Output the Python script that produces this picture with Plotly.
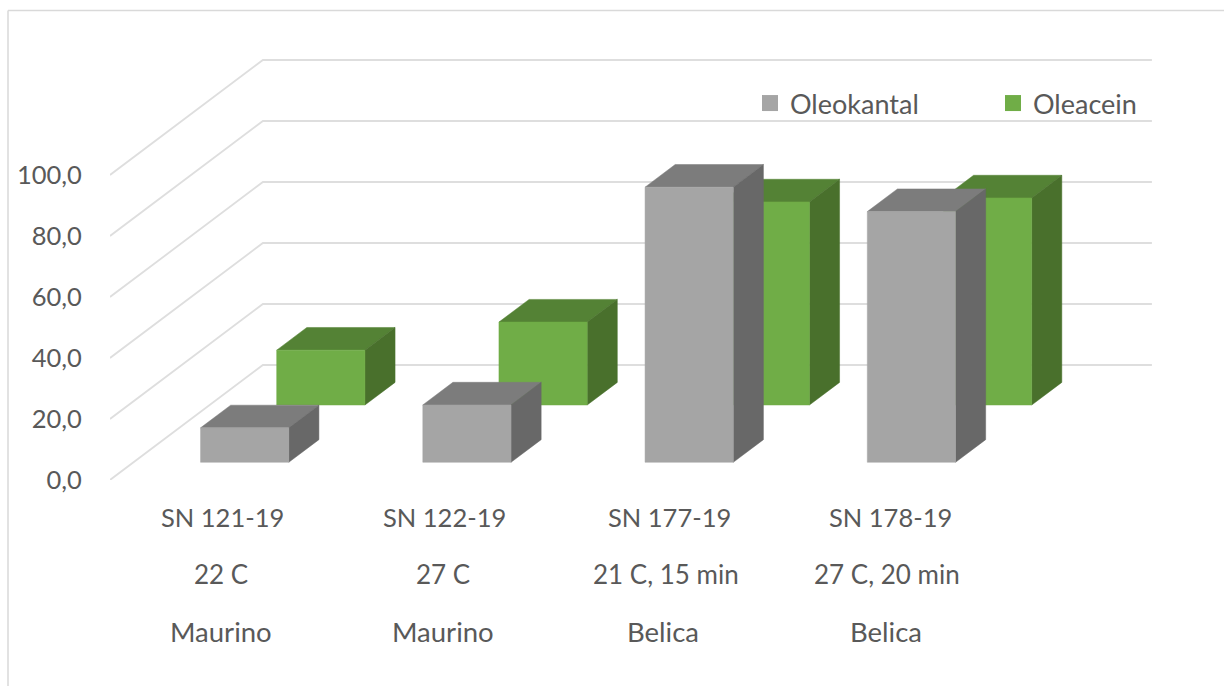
import plotly.graph_objects as go

# --- data ---
line1 = ["SN 121-19", "SN 122-19", "SN 177-19", "SN 178-19"]
line2 = ["22 C", "27 C", "21 C, 15 min", "27 C, 20 min"]
line3 = ["Maurino", "Maurino", "Belica", "Belica"]
oleokantal = [11.3, 18.8, 90.2, 82.2]
oleacein = [18.0, 27.2, 66.6, 67.9]
y_ticks = [0, 20, 40, 60, 80, 100]
y_tick_text = ["0,0", "20,0", "40,0", "60,0", "80,0", "100,0"]

# --- oblique projection of the 3-D box chart onto the 2-D axes ---
DX, DY = 0.688, 37.7      # axis shift of the full chart depth
BAR_W = 0.397             # bar width, in categories
BAR_D = 0.197             # bar depth, as share of chart depth


def proj(x, v, d):
    return x + d * DX, v + d * DY


def add_faces(fig, values, depth_front, colors):
    faces = {"front": ([], []), "top": ([], []), "side": ([], [])}
    for i, v in enumerate(values):
        x0, x1 = i + 0.5 - BAR_W / 2, i + 0.5 + BAR_W / 2
        d0, d1 = depth_front, depth_front + BAR_D
        polys = {
            "front": [(x0, 0, d0), (x1, 0, d0), (x1, v, d0), (x0, v, d0)],
            "top": [(x0, v, d0), (x1, v, d0), (x1, v, d1), (x0, v, d1)],
            "side": [(x1, 0, d0), (x1, 0, d1), (x1, v, d1), (x1, v, d0)],
        }
        for name, pts in polys.items():
            for p in pts + pts[:1]:
                px, py = proj(*p)
                faces[name][0].append(px)
                faces[name][1].append(py)
            faces[name][0].append(None)
            faces[name][1].append(None)
    for name in ("top", "side", "front"):
        fig.add_trace(go.Scatter(
            x=faces[name][0], y=faces[name][1], mode="lines", fill="toself",
            fillcolor=colors[name], line=dict(color=colors[name], width=0.5),
            showlegend=False, hoverinfo="skip"))


fig = go.Figure()

# gridlines: side wall and back wall
gx, gy = [], []
for v in y_ticks:
    a = proj(0, v, 0)
    b = proj(0, v, 1)
    c = proj(len(line1), v, 1)
    gx += [a[0], b[0], c[0], None]
    gy += [a[1], b[1], c[1], None]
fig.add_trace(go.Scatter(x=gx, y=gy, mode="lines",
                         line=dict(color="#DEDEDE", width=1.8),
                         showlegend=False, hoverinfo="skip"))

add_faces(fig, oleacein, 0.652,
          dict(front="#70AD47", top="#548235", side="#49702C"))
add_faces(fig, oleokantal, 0.154,
          dict(front="#A5A5A5", top="#7C7C7C", side="#686868"))

# legend entries
fig.add_trace(go.Scatter(x=[None], y=[None], mode="markers", name="Oleokantal",
                         marker=dict(symbol="square", size=16, color="#A5A5A5")))
fig.add_trace(go.Scatter(x=[None], y=[None], mode="markers", name="Oleacein",
                         marker=dict(symbol="square", size=16, color="#70AD47")))

FONT = "Lato, Carlito, Calibri, sans-serif"
TXT = "#595959"
PLOT_H = 480.0
PLOT_W = 1114.0

rows = [
    (517, line1, 25.5, [1.5, 1.5, 4, 3]),
    (574, line2, 26, [0, 0, 0, -1]),
    (631, line3, 27.5, [0, 0, -3, -1.5]),
]
annots = []
for row_px, row, size, shifts in rows:
    for i, t in enumerate(row):
        annots.append(dict(x=i + 0.5, y=1 - row_px / PLOT_H, xref="x", yref="paper",
                           xshift=shifts[i], text=t, showarrow=False,
                           xanchor="center", yanchor="middle",
                           font=dict(family=FONT, size=size, color=TXT)))

fig.update_layout(
    width=1224, height=686,
    margin=dict(l=110, r=0, t=0, b=206, autoexpand=False),
    paper_bgcolor="white", plot_bgcolor="white",
    font=dict(family=FONT, size=26, color=TXT),
    xaxis=dict(range=[0, PLOT_W / 222.25], showgrid=False, zeroline=False,
               showline=False, showticklabels=False, ticks=""),
    yaxis=dict(range=[0, PLOT_H / 3.05], tickvals=y_ticks, ticktext=y_tick_text,
               showgrid=False, zeroline=False, showline=False,
               ticks="outside", ticklen=22, tickcolor="rgba(0,0,0,0)",
               tickfont=dict(family=FONT, size=25.5, color=TXT)),
    legend=dict(orientation="h", x=(750 - 110) / PLOT_W, xanchor="left",
                y=1 - 79 / PLOT_H, yanchor="top", bgcolor="rgba(0,0,0,0)",
                entrywidth=198, entrywidthmode="pixels",
                itemwidth=30, font=dict(family=FONT, size=27, color=TXT)),
    annotations=annots,
    shapes=[
        dict(type="line", xref="paper", yref="paper", x0=-102 / PLOT_W, x1=1,
             y0=1 - 10.5 / PLOT_H, y1=1 - 10.5 / PLOT_H,
             line=dict(color="#D9D9D9", width=1.5)),
        dict(type="line", xref="paper", yref="paper", x0=-102 / PLOT_W, x1=-102 / PLOT_W,
             y0=1 - 10.5 / PLOT_H, y1=-206 / PLOT_H,
             line=dict(color="#D9D9D9", width=1.5)),
    ],
)

fig.write_html("out.html", config=dict(displayModeBar=False),
               post_script="document.body.style.margin='0';")
